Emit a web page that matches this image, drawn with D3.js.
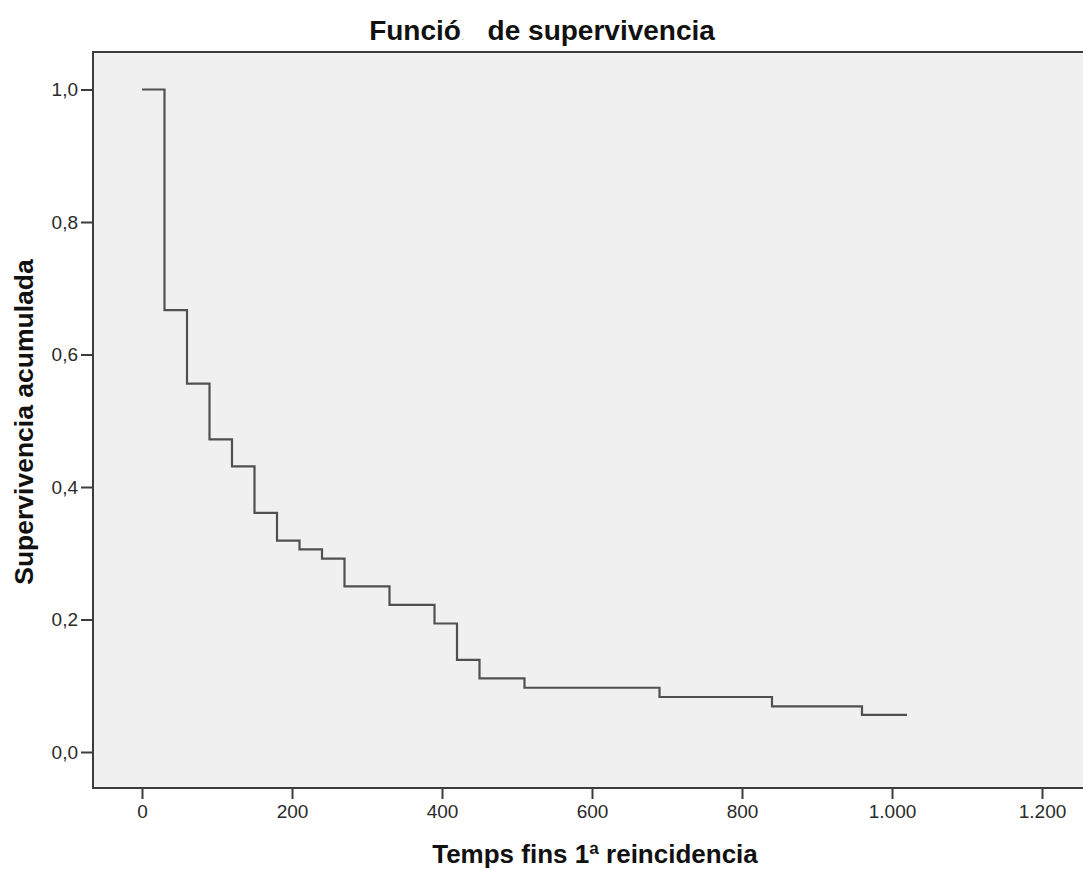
<!DOCTYPE html>
<html>
<head>
<meta charset="utf-8">
<script src="https://cdn.jsdelivr.net/npm/d3@7"></script>
<style>
  body { margin: 0; background: #fff; }
  svg { display: block; }
</style>
</head>
<body>
<div id="chart"></div>
<script>
// Kaplan-Meier steps (temps en dies, supervivencia acumulada)
const times = [0, 30, 60, 90, 120, 150, 180, 210, 240, 270, 330, 390, 420, 450, 510, 690, 840, 960];
const survival = [1.0, 0.667, 0.556, 0.472, 0.431, 0.361, 0.319, 0.306, 0.292, 0.25, 0.222, 0.194, 0.139, 0.111, 0.097, 0.083, 0.069, 0.056];
const lastTime = 1020;

const xTicks = [0, 200, 400, 600, 800, 1000, 1200];
const xTickLabels = ['0', '200', '400', '600', '800', '1.000', '1.200'];
const yTicks = [0, 0.2, 0.4, 0.6, 0.8, 1.0];
const yTickLabels = ['0,0', '0,2', '0,4', '0,6', '0,8', '1,0'];

const width = 1083;
const height = 869;

// caixa del gràfic
const frameLeft = 93, frameTop = 52, frameBottom = 788, frameRight = 1100;

const svg = d3.select('#chart')
  .append('svg')
  .attr('width', width)
  .attr('height', height);

const x = d3.scaleLinear().domain([0, 1200]).range([142, 1042]);
const y = d3.scaleLinear().domain([0, 1]).range([752, 89.5]);

svg.append('rect')
  .attr('x', frameLeft)
  .attr('y', frameTop)
  .attr('width', frameRight - frameLeft)
  .attr('height', frameBottom - frameTop)
  .attr('fill', '#f0f0f0')
  .attr('stroke', '#3c3c3c')
  .attr('stroke-width', 2);

// eix X
const xAxis = svg.append('g')
  .attr('transform', `translate(0,${frameBottom})`)
  .call(d3.axisBottom(x)
    .tickValues(xTicks)
    .tickFormat((d, i) => xTickLabels[i])
    .tickSize(11)
    .tickPadding(6));
xAxis.select('.domain').remove();
xAxis.selectAll('line').attr('stroke', '#3c3c3c').attr('stroke-width', 2);
xAxis.selectAll('text')
  .attr('fill', '#2a2a2a')
  .style('font-family', 'Liberation Sans, Arial, sans-serif')
  .style('font-size', '19px');

// eix Y
const yAxis = svg.append('g')
  .attr('transform', `translate(${frameLeft},0)`)
  .call(d3.axisLeft(y)
    .tickValues(yTicks)
    .tickFormat((d, i) => yTickLabels[i])
    .tickSize(12)
    .tickPadding(3));
yAxis.select('.domain').remove();
yAxis.selectAll('line').attr('stroke', '#3c3c3c').attr('stroke-width', 2);
yAxis.selectAll('text')
  .attr('fill', '#2a2a2a')
  .style('font-family', 'Liberation Sans, Arial, sans-serif')
  .style('font-size', '19px');

// corba de supervivencia
const points = times.map((t, i) => [t, survival[i]]);
points.push([lastTime, survival[survival.length - 1]]);

const line = d3.line()
  .x(d => x(d[0]))
  .y(d => y(d[1]))
  .curve(d3.curveStepAfter);

svg.append('path')
  .datum(points)
  .attr('d', line)
  .attr('fill', 'none')
  .attr('stroke', '#505050')
  .attr('stroke-width', 2.2);

// títols
const title = svg.append('text')
  .attr('x', 542)
  .attr('y', 40)
  .attr('text-anchor', 'middle')
  .style('font-family', 'Liberation Sans, Arial, sans-serif')
  .style('font-weight', 'bold')
  .style('font-size', '28px')
  .attr('fill', '#111');
title.append('tspan').text('Funció');
title.append('tspan').attr('fill', '#bbb').style('font-size', '12px').style('font-weight', 'normal').text('.');
title.append('tspan').text('\u00a0\u00a0\u00a0de supervivencia');

svg.append('text')
  .attr('x', 595)
  .attr('y', 863)
  .attr('text-anchor', 'middle')
  .style('font-family', 'Liberation Sans, Arial, sans-serif')
  .style('font-weight', 'bold')
  .style('font-size', '26px')
  .attr('fill', '#111')
  .text('Temps fins 1ª reincidencia');

svg.append('text')
  .attr('transform', 'translate(33,422) rotate(-90)')
  .attr('text-anchor', 'middle')
  .style('font-family', 'Liberation Sans, Arial, sans-serif')
  .style('font-weight', 'bold')
  .style('font-size', '26.5px')
  .attr('fill', '#111')
  .text('Supervivencia acumulada');
</script>
</body>
</html>
